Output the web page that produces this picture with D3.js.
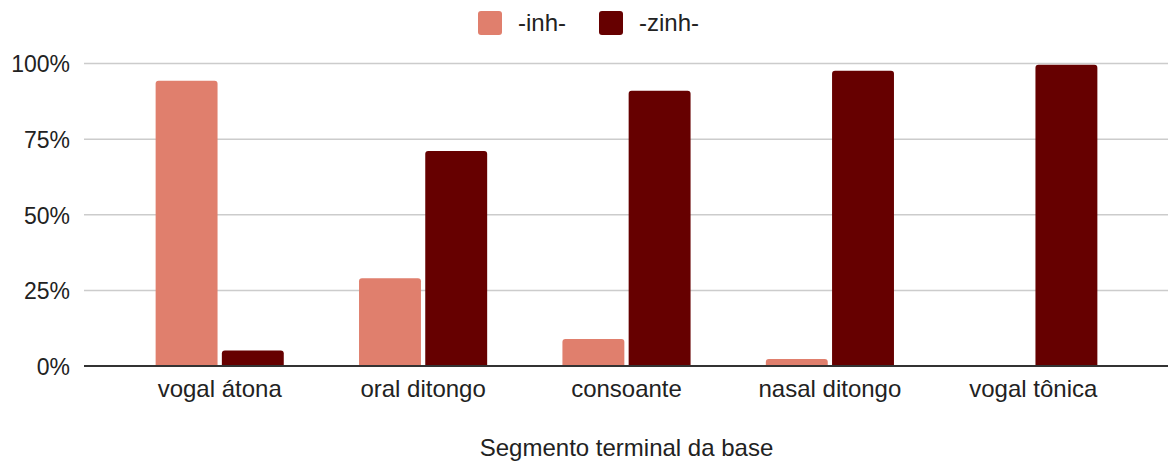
<!DOCTYPE html>
<html>
<head>
<meta charset="utf-8">
<script src="https://cdn.jsdelivr.net/npm/d3@7"></script>
<style>
    body { margin: 0; background: #fff; }
    text { font-family: "Liberation Sans", Arial, sans-serif; fill: #222; }
</style>
</head>
<body>
<div id="chart"></div>
<script>
var categories = ["vogal átona", "oral ditongo", "consoante", "nasal ditongo", "vogal tônica"];
var seriesNames = ["-inh-", "-zinh-"];
var inhValues = [0.943, 0.290, 0.089, 0.023, 0];
var zinhValues = [0.051, 0.711, 0.910, 0.976, 0.996];
var yTicks = [0, 0.25, 0.5, 0.75, 1];
var colors = ["#e07f6d", "#660000"];

(function () {
    var width = 1168, height = 463;
    var plot = {left: 118, right: 1135, top: 63.5, bottom: 366};
    var fontSize = "24px";

    var svg = d3.select("#chart").append("svg")
        .attr("width", width)
        .attr("height", height);

    var x = d3.scaleBand()
        .domain(categories)
        .range([plot.left, plot.right])
        .paddingInner(0.37)
        .paddingOuter(0.185);

    var xSub = d3.scaleBand()
        .domain(seriesNames)
        .range([0, x.bandwidth()])
        .paddingInner(0.065);

    var y = d3.scaleLinear()
        .domain([0, 1])
        .range([plot.bottom, plot.top]);

    // gridlines
    svg.append("g")
        .selectAll("line")
        .data(yTicks.filter(function (d) { return d > 0; }))
        .enter().append("line")
        .attr("x1", 84).attr("x2", width)
        .attr("y1", function (d) { return y(d); })
        .attr("y2", function (d) { return y(d); })
        .attr("stroke", "#cccccc")
        .attr("stroke-width", 1.5);

    // y labels
    var yAxis = d3.axisLeft(y)
        .tickValues(yTicks)
        .tickFormat(d3.format(".0%"))
        .tickSize(0)
        .tickPadding(0);
    svg.append("g")
        .attr("transform", "translate(70,0)")
        .call(yAxis)
        .call(function (g) { g.select(".domain").remove(); })
        .selectAll("text")
        .style("font-size", "23px")
        .attr("dy", "0.36em")
        .attr("fill", "#222");

    // bars
    var rows = categories.map(function (c, i) {
        return {cat: c, vals: [inhValues[i], zinhValues[i]]};
    });

    var groups = svg.append("g")
        .selectAll("g")
        .data(rows)
        .enter().append("g")
        .attr("transform", function (d) { return "translate(" + x(d.cat) + ",0)"; });

    groups.selectAll("path")
        .data(function (d) {
            return d.vals.map(function (v, j) { return {name: seriesNames[j], value: v, idx: j}; });
        })
        .enter().append("path")
        .filter(function (d) { return d.value > 0; })
        .attr("fill", function (d) { return colors[d.idx]; })
        .attr("d", function (d) {
            var x0 = xSub(d.name), w = xSub.bandwidth();
            var y0 = y(d.value), y1 = y(0);
            var r = Math.min(3, (y1 - y0) / 2);
            return "M" + x0 + "," + y1 +
                "V" + (y0 + r) +
                "Q" + x0 + "," + y0 + " " + (x0 + r) + "," + y0 +
                "H" + (x0 + w - r) +
                "Q" + (x0 + w) + "," + y0 + " " + (x0 + w) + "," + (y0 + r) +
                "V" + y1 + "Z";
        });

    // baseline
    svg.append("line")
        .attr("x1", 84).attr("x2", width)
        .attr("y1", y(0)).attr("y2", y(0))
        .attr("stroke", "#333333")
        .attr("stroke-width", 2);

    // x labels
    var xAxis = d3.axisBottom(x).tickSize(0).tickPadding(0);
    svg.append("g")
        .attr("transform", "translate(0,397)")
        .call(xAxis)
        .call(function (g) { g.select(".domain").remove(); })
        .selectAll("text")
        .style("font-size", fontSize)
        .attr("dy", 0)
        .attr("fill", "#222");

    // axis title
    svg.append("text")
        .attr("x", (plot.left + plot.right) / 2)
        .attr("y", 456)
        .attr("text-anchor", "middle")
        .style("font-size", fontSize)
        .text("Segmento terminal da base");

    // legend
    var legendX = [478, 599];
    var legend = svg.append("g")
        .selectAll("g")
        .data(seriesNames)
        .enter().append("g")
        .attr("transform", function (d, i) { return "translate(" + legendX[i] + ",11)"; });
    legend.append("rect")
        .attr("width", 24).attr("height", 24)
        .attr("rx", 3)
        .attr("fill", function (d, i) { return colors[i]; });
    legend.append("text")
        .attr("x", 40).attr("y", 20)
        .style("font-size", fontSize)
        .text(function (d) { return d; });
})();
</script>
</body>
</html>
